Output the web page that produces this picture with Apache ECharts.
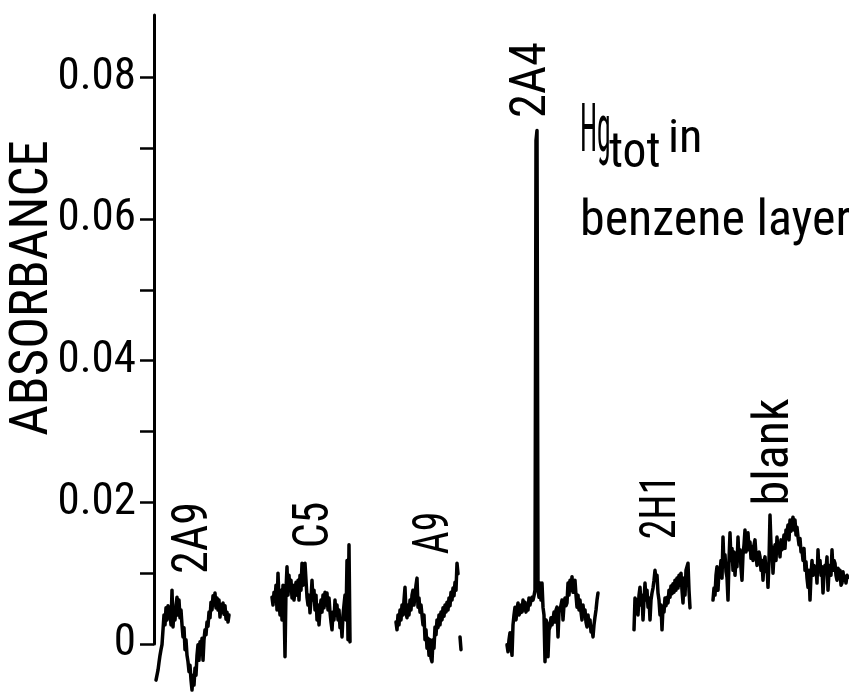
<!DOCTYPE html>
<html>
<head>
<meta charset="utf-8">
<script src="https://cdn.jsdelivr.net/npm/echarts@6/dist/echarts.min.js"></script>
<style>
html,body{margin:0;padding:0;background:#fff;}
#chart{width:849px;height:692px;}
</style>
</head>
<body>
<div id="chart"></div>
<script>
// Recorder time (arbitrary units) at which each sample run starts; samples are 1 unit apart
const runNames = ['2A9', 'C5', 'A9', '2A4', '2H1', 'blank'];
const runStart = [2, 118, 242, 353, 480, 559];

// Absorbance readings for each run
const abs2A9 = [-0.0051,-0.0044,-0.0037,-0.0026,-0.0016,-0.0008,-0.0001,0.0020,0.0041,0.0027,0.0051,0.0034,0.0054,0.0037,0.0045,0.0027,0.0076,0.0024,0.0048,0.0034,0.0055,0.0066,0.0041,0.0062,0.0037,0.0048,0.0027,0.0010,0.0023,-0.0008,0.0006,-0.0016,-0.0025,-0.0039,-0.0030,-0.0051,-0.0065,-0.0044,-0.0058,-0.0034,-0.0044,-0.0016,-0.0001,-0.0023,0.0003,-0.0008,0.0008,-0.0023,0.0006,0.0020,0.0013,0.0031,0.0025,0.0045,0.0037,0.0059,0.0048,0.0068,0.0055,0.0072,0.0051,0.0065,0.0048,0.0062,0.0038,0.0055,0.0045,0.0058,0.0042,0.0054,0.0035,0.0045,0.0031,0.0041];
const absC5 = [0.0066,0.0055,0.0073,0.0062,0.0083,0.0048,0.0100,0.0062,0.0041,0.0076,0.0034,0.0083,0.0062,-0.0018,0.0076,0.0109,0.0069,0.0097,0.0076,0.0090,0.0065,0.0083,0.0062,0.0076,0.0087,0.0069,0.0090,0.0062,0.0097,0.0076,0.0114,0.0083,0.0104,0.0114,0.0090,0.0066,0.0055,0.0069,0.0044,0.0062,0.0090,0.0062,0.0076,0.0048,0.0069,0.0034,0.0055,0.0027,0.0048,0.0062,0.0045,0.0069,0.0051,0.0073,0.0055,0.0072,0.0048,0.0065,0.0045,0.0031,0.0020,0.0045,0.0034,0.0062,0.0041,0.0055,0.0034,0.0048,0.0023,0.0034,0.0010,0.0041,0.0055,0.0069,0.0034,0.0118,0.0006,0.0140,0.0003];
const absA9 = [0.0031,0.0020,0.0041,0.0027,0.0048,0.0034,0.0055,0.0041,0.0062,0.0080,0.0045,0.0037,0.0055,0.0041,0.0062,0.0048,0.0069,0.0076,0.0055,0.0069,0.0083,0.0093,0.0052,0.0065,0.0045,0.0055,0.0041,0.0027,0.0041,0.0006,0.0020,-0.0006,0.0008,-0.0016,0.0006,-0.0020,-0.0025,0.0006,-0.0006,0.0024,0.0013,0.0034,0.0023,0.0041,0.0027,0.0045,0.0034,0.0051,0.0039,0.0055,0.0045,0.0059,0.0048,0.0065,0.0054,0.0073,0.0062,0.0079,0.0068,0.0087,0.0076,0.0114,0.0099,null,0.0010,-0.0008];
const abs2A4 = [-0.0001,-0.0011,0.0006,0.0016,-0.0001,-0.0016,0.0027,0.0041,0.0052,0.0034,0.0048,0.0058,0.0041,0.0044,0.0055,0.0045,0.0062,0.0048,0.0059,0.0045,0.0055,0.0048,0.0065,0.0055,0.0062,0.0066,0.0062,0.0068,0.0076,0.0711,0.0725,0.0076,0.0066,0.0086,0.0062,0.0086,0.0052,0.0041,-0.0025,0.0034,0.0030,-0.0018,0.0020,0.0024,0.0037,0.0027,0.0034,0.0045,0.0031,0.0048,0.0052,0.0010,0.0045,0.0048,0.0055,0.0062,0.0034,0.0055,0.0065,0.0054,0.0058,0.0086,0.0069,0.0090,0.0076,0.0095,0.0073,0.0087,0.0090,0.0069,0.0052,0.0069,0.0048,0.0062,0.0045,0.0034,0.0055,0.0041,0.0048,0.0031,0.0024,0.0041,0.0027,0.0034,0.0017,0.0023,0.0010,0.0027,0.0038,0.0048,0.0062,0.0072];
const abs2H1 = [0.0020,0.0065,0.0045,0.0062,0.0041,0.0069,0.0080,0.0055,0.0069,0.0034,0.0062,0.0086,0.0062,0.0076,0.0052,0.0065,0.0034,0.0062,0.0072,0.0079,0.0090,0.0104,0.0090,0.0097,0.0072,0.0062,0.0041,0.0055,0.0020,0.0052,0.0045,0.0065,0.0054,0.0066,0.0058,0.0076,0.0066,0.0082,0.0071,0.0085,0.0073,0.0090,0.0076,0.0093,0.0079,0.0097,0.0083,0.0100,0.0076,0.0058,0.0093,0.0069,0.0104,0.0109,0.0114,0.0076,0.0051];
const absBlank = [0.0062,0.0079,0.0069,0.0097,0.0109,0.0076,0.0104,0.0100,0.0118,0.0093,0.0151,0.0111,0.0126,0.0102,0.0094,0.0062,0.0118,0.0157,0.0118,0.0135,0.0104,0.0130,0.0097,0.0121,0.0109,0.0151,0.0118,0.0133,0.0107,0.0090,0.0126,0.0140,0.0161,0.0130,0.0147,0.0157,0.0133,0.0144,0.0121,0.0137,0.0118,0.0140,0.0147,0.0126,0.0111,0.0109,0.0130,0.0123,0.0104,0.0118,0.0090,0.0116,0.0123,0.0102,0.0111,0.0080,0.0118,0.0182,0.0140,0.0133,0.0100,0.0126,0.0140,0.0118,0.0151,0.0133,0.0140,0.0123,0.0147,0.0133,0.0142,0.0154,0.0135,0.0161,0.0157,0.0168,0.0147,0.0175,0.0159,0.0172,0.0179,0.0161,0.0175,0.0154,0.0165,0.0151,0.0140,0.0149,0.0130,0.0133,0.0118,0.0135,0.0104,0.0116,0.0093,0.0080,0.0104,0.0062,0.0097,0.0118,0.0097,0.0111,0.0100,0.0107,0.0086,0.0133,0.0102,0.0118,0.0097,0.0109,0.0072,0.0097,0.0111,0.0104,0.0123,0.0076,0.0102,0.0111,0.0097,0.0133,0.0104,0.0118,0.0114,0.0097,0.0090,0.0107,0.0093,0.0104,0.0083,0.0086,0.0102,0.0090,0.0094,0.0086,0.0097,0.0094];

// Axis ticks and labels
const yTicks = [0, 0.01, 0.02, 0.03, 0.04, 0.05, 0.06, 0.07, 0.08];
const yLabels = [0, 0.02, 0.04, 0.06, 0.08];
const yName = 'ABSORBANCE';

const runs = [abs2A9, absC5, absA9, abs2A4, abs2H1, absBlank];
const FONT = '"Roboto Condensed","DejaVu Sans Condensed","Liberation Sans",sans-serif';

const series = runs.map((vals, r) => ({
  name: runNames[r],
  type: 'line',
  data: vals.map((v, i) => [runStart[r] + i, v]),
  showSymbol: false,
  symbol: 'none',
  clip: false,
  connectNulls: false,
  lineStyle: { color: '#000', width: 3.5, join: 'round', cap: 'round' },
  emphasis: { disabled: true },
  silent: true
}));

function vtext(txt, x, y, size, sx) {
  return {
    type: 'text', x: x, y: y, rotation: Math.PI / 2, scaleX: sx, scaleY: 1,
    style: { text: txt, font: size + 'px ' + FONT, fill: '#000',
      align: 'center', verticalAlign: 'middle', textAlign: 'center', textVerticalAlign: 'middle' }
  };
}
function htext(txt, x, y, size, sx, sy) {
  return {
    type: 'text', x: x, y: y, scaleX: sx, scaleY: sy || 1,
    style: { text: txt, font: size + 'px ' + FONT, fill: '#000',
      align: 'left', verticalAlign: 'middle', textAlign: 'left', textVerticalAlign: 'middle' }
  };
}

const chart = echarts.init(document.getElementById('chart'), null, { renderer: 'canvas' });
chart.setOption({
  animation: false,
  backgroundColor: '#fff',
  grid: { left: 154, right: 0, top: 15, bottom: 48 },
  xAxis: { type: 'value', min: 0, max: 695, show: false },
  yAxis: {
    type: 'value', min: 0, max: 0.0888,
    axisLine: { show: true, lineStyle: { color: '#000', width: 3 } },
    axisTick: { show: true, length: 14, customValues: yTicks, lineStyle: { color: '#000', width: 2.5 } },
    axisLabel: {
      show: true, customValues: yLabels, margin: 18, color: '#000',
      fontFamily: FONT, fontSize: 45,
      formatter: v => (v === 0 ? '0' : v.toFixed(2))
    },
    splitLine: { show: false }
  },
  graphic: [
    vtext(yName, 34, 288, 53, 1.0),
    vtext(runNames[0], 194, 538, 50, 0.92),
    vtext(runNames[1], 315, 525, 50, 0.88),
    vtext(runNames[2], 435, 533, 50, 0.79),
    vtext(runNames[3], 532, 80, 50, 0.97),
    vtext(runNames[4], 662, 507, 50, 0.8),
    vtext(runNames[5], 775, 452, 50, 1.0),
    htext('Hg', 580, 134, 46, 0.6, 1.45),
    htext('tot', 609, 154, 50, 0.95),
    htext('in', 668, 140, 46, 1.05),
    htext('benzene layer', 580, 222, 50, 1.0)
  ],
  series: series
});
</script>
</body>
</html>
